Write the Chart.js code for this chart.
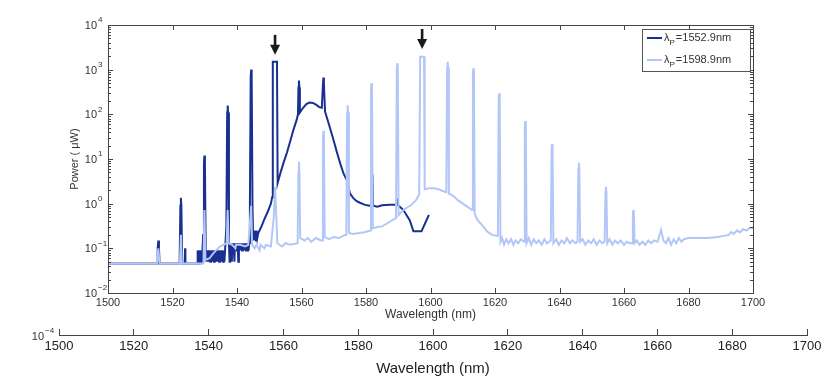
<!DOCTYPE html>
<html lang="en">
<head>
<meta charset="UTF-8">
<title>Spectrum</title>
<script src="https://cdn.jsdelivr.net/npm/chart.js"></script>
<style>
html, body { margin: 0; padding: 0; background: #fff; }
body { width: 830px; height: 378px; overflow: hidden; }
canvas { display: block; }
</style>
</head>
<body>
<canvas id="spectrum" width="830" height="322"></canvas>
<canvas id="axis2" width="830" height="56"></canvas>
<script>
// wavelength (nm), power (uW)
var darkSeries = [
  [1500, 0.046], [1515.2, 0.046], [1515.4, 0.1], [1515.6, 0.15], [1515.8, 0.1], [1516.0, 0.046],
  [1522.2, 0.046], [1522.45, 0.9], [1522.6, 1.35], [1522.75, 0.9], [1523.0, 0.046],
  [1523.8, 0.046], [1523.9, 0.1], [1524.0, 0.046], [1527.6, 0.046],
  [1527.7, 0.09], [1527.9, 0.046], [1528.1, 0.09], [1528.3, 0.046], [1528.5, 0.09], [1528.7, 0.046],
  [1528.9, 0.09], [1529.1, 0.046], [1529.3, 0.09], [1529.5, 0.2], [1529.75, 8], [1529.9, 12], [1530.05, 8], [1530.3, 0.09],
  [1530.5, 0.05], [1530.7, 0.09], [1530.9, 0.05], [1531.1, 0.09], [1531.3, 0.05], [1531.5, 0.09], [1531.7, 0.05],
  [1531.9, 0.09], [1532.1, 0.05], [1532.3, 0.09], [1532.5, 0.05], [1532.7, 0.09], [1532.9, 0.05], [1533.1, 0.09],
  [1533.3, 0.05], [1533.5, 0.09], [1533.7, 0.05], [1533.9, 0.09], [1534.1, 0.05], [1534.3, 0.09], [1534.5, 0.05],
  [1534.7, 0.09], [1534.9, 0.05], [1535.1, 0.09], [1535.3, 0.05], [1535.5, 0.09], [1535.7, 0.05], [1535.9, 0.09],
  [1536.1, 0.05], [1536.3, 0.09], [1536.7, 0.3], [1536.95, 110], [1537.1, 158], [1537.25, 110], [1537.5, 0.13],
  [1537.7, 0.05], [1537.8, 0.13], [1538.0, 0.09], [1538.2, 0.13], [1538.4, 0.05], [1538.6, 0.13], [1538.8, 0.09],
  [1539.0, 0.13], [1539.2, 0.05], [1539.4, 0.13], [1539.6, 0.09], [1539.8, 0.13], [1540.0, 0.09], [1540.2, 0.13],
  [1540.4, 0.05], [1540.6, 0.13], [1540.8, 0.09], [1541.0, 0.13], [1541.2, 0.09], [1541.4, 0.13], [1541.6, 0.09],
  [1541.8, 0.13], [1542.0, 0.09], [1542.2, 0.13], [1542.4, 0.09], [1542.6, 0.13], [1542.8, 0.09], [1543.0, 0.13],
  [1543.2, 0.09], [1543.4, 0.13], [1543.6, 0.09], [1543.8, 0.13],
  [1544.0, 1], [1544.25, 700], [1544.4, 1000], [1544.55, 700], [1544.8, 1], [1545.0, 0.15],
  [1545.3, 0.25], [1545.5, 0.15], [1545.7, 0.22], [1545.9, 0.15], [1546.1, 0.25], [1546.3, 0.17], [1546.6, 0.22],
  [1547.5, 0.3], [1548.5, 0.45], [1549.5, 0.65], [1550.5, 1.0], [1550.9, 1.4],
  [1551.1, 1500], [1552.4, 1500], [1552.6, 2.9],
  [1553.5, 5], [1554.5, 8.5], [1555.5, 14], [1556.5, 25], [1557.5, 45], [1558.5, 75], [1558.9, 100],
  [1559.05, 400], [1559.2, 570], [1559.35, 400], [1559.5, 110],
  [1560.5, 140], [1561.5, 170], [1562.5, 183], [1563.5, 180], [1564.5, 165], [1565.5, 145], [1566.3, 140],
  [1566.65, 470], [1566.8, 665], [1566.95, 470], [1567.3, 115],
  [1568.5, 60], [1569.9, 27], [1571, 14], [1572, 8], [1573, 4.8], [1573.9, 3.5], [1574.1, 23], [1574.3, 3],
  [1575, 1.7], [1576, 1.35], [1577, 1.15], [1578.1, 1.05], [1579.5, 0.95], [1581, 0.9], [1581.8, 0.92],
  [1582, 4.5], [1582.2, 0.9], [1583.5, 0.85], [1585, 0.92], [1587.4, 0.95], [1589.5, 0.95], [1589.6, 1.3],
  [1589.7, 0.95], [1590.5, 0.85], [1591.6, 0.72], [1592.6, 0.55], [1593.6, 0.42], [1594.7, 0.24],
  [1597.2, 0.24], [1598.3, 0.36], [1599.5, 0.56]
];

var lightSeries = [
  [1500, 0.046], [1515.2, 0.046], [1515.6, 0.1], [1516.0, 0.046], [1522.3, 0.046], [1522.6, 0.2], [1522.9, 0.046],
  [1529.6, 0.046], [1529.9, 0.72], [1530.2, 0.055], [1531.5, 0.06], [1532.5, 0.075], [1533.5, 0.09],
  [1534.7, 0.11], [1535.8, 0.12], [1536.8, 0.13], [1537.1, 0.72], [1537.4, 0.13], [1538.5, 0.12],
  [1539.5, 0.1], [1539.7, 0.12], [1541, 0.12], [1542.5, 0.11], [1543.5, 0.12], [1544.4, 0.9], [1544.7, 0.12],
  [1545.5, 0.1], [1546, 0.12], [1547, 0.09], [1547.3, 0.12], [1548.5, 0.1], [1549, 0.12], [1550.5, 0.11],
  [1551.4, 0.5], [1551.8, 2.4], [1552.2, 0.5], [1552.5, 0.13], [1554, 0.11], [1555, 0.13], [1556.5, 0.12],
  [1558.8, 0.13], [1559.05, 5], [1559.2, 8.7], [1559.35, 5], [1559.6, 0.17],
  [1561, 0.15], [1562, 0.17], [1563, 0.14], [1564.5, 0.17], [1566, 0.15],
  [1566.4, 0.15], [1566.65, 28], [1566.8, 43], [1566.95, 28], [1567.2, 0.18],
  [1568.5, 0.16], [1570, 0.18], [1571.5, 0.17], [1573.5, 0.2],
  [1573.9, 0.2], [1574.15, 110], [1574.3, 160], [1574.45, 110], [1574.7, 0.22],
  [1576, 0.21], [1578, 0.22], [1579.5, 0.23],
  [1581.3, 0.25], [1581.55, 350], [1581.7, 500], [1581.85, 350], [1582.1, 0.28],
  [1583.5, 0.3], [1585, 0.31], [1586.5, 0.36], [1588, 0.42],
  [1589.3, 0.48], [1589.55, 1000], [1589.7, 1380], [1589.85, 1000], [1590.1, 0.55],
  [1591, 0.66], [1592.5, 0.8], [1594, 0.93], [1595.5, 1.2], [1596.5, 1.6],
  [1596.8, 1950], [1598.0, 1950], [1598.2, 2.1], [1599.5, 2.2], [1601, 2.2], [1602.5, 2.1], [1604, 1.9],
  [1604.9, 1.8], [1605.15, 1100], [1605.3, 1500], [1605.45, 1100], [1605.7, 1.7],
  [1607, 1.5], [1608.5, 1.2], [1610, 1.0], [1611.5, 0.85],
  [1612.9, 0.72], [1613.15, 800], [1613.3, 1070], [1613.45, 800], [1613.7, 0.6],
  [1614.5, 0.44], [1616, 0.33], [1617.5, 0.24], [1619, 0.2],
  [1620.9, 0.19], [1621.15, 220], [1621.3, 295], [1621.45, 220], [1621.7, 0.14],
  [1622.2, 0.17], [1622.8, 0.12], [1623.5, 0.16], [1624.2, 0.13], [1625, 0.16], [1625.7, 0.12], [1626.4, 0.15],
  [1627.2, 0.13], [1628, 0.16], [1629.0, 0.14], [1629.25, 52], [1629.4, 71], [1629.55, 52], [1629.8, 0.13],
  [1630.5, 0.17], [1631.2, 0.12], [1632, 0.16], [1632.8, 0.13], [1633.6, 0.15], [1634.5, 0.12], [1635.3, 0.16],
  [1636.1, 0.13], [1637.3, 0.15], [1637.55, 16], [1637.7, 21.5], [1637.85, 16], [1638.1, 0.13],
  [1639, 0.16], [1639.8, 0.12], [1640.6, 0.15], [1641.5, 0.13], [1642.3, 0.17], [1643.2, 0.13], [1644, 0.15],
  [1645, 0.13], [1645.6, 0.14], [1645.85, 6], [1646, 8.3], [1646.15, 6], [1646.4, 0.14],
  [1647.2, 0.16], [1648, 0.12], [1648.9, 0.15], [1649.8, 0.13], [1650.6, 0.16], [1651.5, 0.12], [1652.4, 0.15],
  [1653.3, 0.13], [1654.0, 0.14], [1654.25, 1.8], [1654.4, 2.4], [1654.55, 1.8], [1654.8, 0.13],
  [1655.5, 0.16], [1656.4, 0.12], [1657.2, 0.15], [1658.1, 0.13], [1659, 0.15], [1660, 0.12], [1660.8, 0.14],
  [1661.8, 0.13], [1662.5, 0.13], [1662.75, 0.55], [1662.9, 0.72], [1663.05, 0.55], [1663.3, 0.13],
  [1664, 0.15], [1664.8, 0.12], [1665.7, 0.14], [1666.6, 0.12], [1667.5, 0.15], [1668.4, 0.13], [1669.3, 0.15],
  [1670.4, 0.14], [1671.5, 0.26], [1672.2, 0.15],
  [1673, 0.13], [1673.8, 0.17], [1674.6, 0.12], [1675.4, 0.16], [1676.2, 0.13], [1677, 0.17], [1677.8, 0.14],
  [1678.6, 0.16], [1680, 0.17], [1683, 0.17], [1686, 0.17], [1689, 0.18], [1691, 0.19],
  [1692.5, 0.2], [1693.2, 0.23], [1694, 0.21], [1695, 0.25], [1696, 0.23], [1697, 0.27], [1698, 0.25],
  [1699, 0.29], [1700, 0.28]
];

var seriesNames = ['1552.9nm', '1598.9nm'];
var xTicks = [1500, 1520, 1540, 1560, 1580, 1600, 1620, 1640, 1660, 1680, 1700];
var yTickExp = [-2, -1, 0, 1, 2, 3, 4];
var arrowWl = [1551.8, 1597.4];
var arrowTip = [2150, 2900];

var darkColor = 'rgb(26, 48, 145)';
var lightColor = 'rgb(178, 199, 247)';
var axisColor = '#444';
var textColor = '#333';
var fontFamily = "'Liberation Sans', Arial, sans-serif";

Chart.defaults.font.family = fontFamily;
Chart.defaults.color = textColor;

function toPoints(arr) {
  return arr.map(function (p) { return { x: p[0], y: p[1] }; });
}

function supText(e) {
  return e < 0 ? '\u2212' + Math.abs(e) : String(e);
}

function plainTick(v) {
  return String(v);
}

// frame with inward ticks, y labels as 10^n, arrows and legend
var framePlugin = {
  id: 'frame',
  afterDatasetsDraw: function (chart) {
    var ctx = chart.ctx, a = chart.chartArea;
    var xs = chart.scales.x, ys = chart.scales.y;
    ctx.save();
    ctx.strokeStyle = axisColor;
    ctx.lineWidth = 1;
    ctx.strokeRect(a.left + 0.5, a.top + 0.5, a.right - a.left, a.bottom - a.top);

    ctx.beginPath();
    xTicks.forEach(function (v) {
      var px = Math.round(xs.getPixelForValue(v)) + 0.5;
      ctx.moveTo(px, a.bottom); ctx.lineTo(px, a.bottom - 5);
      ctx.moveTo(px, a.top); ctx.lineTo(px, a.top + 5);
    });
    for (var e = yTickExp[0]; e < yTickExp[yTickExp.length - 1]; e++) {
      for (var k = 1; k < 10; k++) {
        var py = Math.round(ys.getPixelForValue(k * Math.pow(10, e))) + 0.5;
        var len = k === 1 ? 5 : 3;
        ctx.moveTo(a.left, py); ctx.lineTo(a.left + len, py);
        ctx.moveTo(a.right, py); ctx.lineTo(a.right - len, py);
      }
    }
    ctx.stroke();

    // y tick labels
    ctx.fillStyle = textColor;
    ctx.textBaseline = 'middle';
    yTickExp.forEach(function (e) {
      var py = ys.getPixelForValue(Math.pow(10, e));
      ctx.font = '11px ' + fontFamily;
      ctx.textAlign = 'right';
      ctx.fillText('10', a.left - 11, py + 1);
      ctx.font = '8px ' + fontFamily;
      ctx.textAlign = 'left';
      ctx.fillText(supText(e), a.left - 10, py - 5);
    });

    // pump arrows
    ctx.fillStyle = '#1a1a1a';
    arrowWl.forEach(function (w, i) {
      var px = xs.getPixelForValue(w);
      var tip = ys.getPixelForValue(arrowTip[i]);
      ctx.fillRect(px - 1.3, tip - 20, 2.6, 11);
      ctx.beginPath();
      ctx.moveTo(px - 5, tip - 10);
      ctx.lineTo(px + 5, tip - 10);
      ctx.lineTo(px, tip);
      ctx.closePath();
      ctx.fill();
    });

    // legend
    var bx = 642, by = 29, bw = 108, bh = 42;
    ctx.fillStyle = '#fff';
    ctx.fillRect(bx, by, bw, bh);
    ctx.strokeStyle = '#555';
    ctx.strokeRect(bx + 0.5, by + 0.5, bw, bh);
    [darkColor, lightColor].forEach(function (c, i) {
      var ly = by + 9 + i * 22;
      ctx.strokeStyle = c;
      ctx.lineWidth = 2;
      ctx.beginPath();
      ctx.moveTo(bx + 5, ly); ctx.lineTo(bx + 20, ly);
      ctx.stroke();
      ctx.fillStyle = textColor;
      ctx.textAlign = 'left';
      ctx.font = '11px ' + fontFamily;
      var tx = bx + 22;
      ctx.fillText('\u03bb', tx, ly);
      tx += ctx.measureText('\u03bb').width;
      ctx.font = '8px ' + fontFamily;
      ctx.fillText('P', tx, ly + 5);
      tx += ctx.measureText('P').width + 1;
      ctx.font = '11px ' + fontFamily;
      ctx.fillText('=' + seriesNames[i], tx, ly);
    });
    ctx.restore();
  }
};

new Chart(document.getElementById('spectrum').getContext('2d'), {
  type: 'line',
  data: {
    datasets: [
      {
        label: '\u03bbP=' + seriesNames[1],
        data: toPoints(lightSeries),
        borderColor: lightColor,
        borderWidth: 2,
        pointRadius: 0,
        tension: 0,
        fill: false
      },
      {
        label: '\u03bbP=' + seriesNames[0],
        data: toPoints(darkSeries),
        borderColor: darkColor,
        borderWidth: 2,
        pointRadius: 0,
        tension: 0,
        fill: false
      }
    ]
  },
  options: {
    responsive: false,
    animation: false,
    devicePixelRatio: 1,
    layout: { padding: { left: 63, right: 77, top: 25, bottom: 0 } },
    plugins: { legend: { display: false }, tooltip: { enabled: false } },
    scales: {
      x: {
        type: 'linear',
        min: 1500,
        max: 1700,
        grid: { display: false, drawTicks: false },
        border: { display: false },
        ticks: { stepSize: 20, font: { size: 11 }, color: textColor, padding: 3, maxRotation: 0, callback: plainTick },
        title: { display: true, text: 'Wavelength (nm)', font: { size: 12 }, color: textColor, padding: { top: 0, bottom: 0 } },
        afterFit: function (s) { s.height = 29; }
      },
      y: {
        type: 'logarithmic',
        min: 0.01,
        max: 10000,
        grid: { display: false, drawTicks: false },
        border: { display: false },
        ticks: { display: false },
        title: { display: true, text: 'Power ( \u03bcW)', font: { size: 11 }, color: textColor, padding: { top: 5, bottom: 0 } },
        afterFit: function (s) { s.width = 45; }
      }
    }
  },
  plugins: [framePlugin]
});

// second, wider wavelength axis underneath
var expPlugin = {
  id: 'exp',
  afterDraw: function (chart) {
    var ctx = chart.ctx;
    ctx.save();
    ctx.fillStyle = textColor;
    ctx.textBaseline = 'middle';
    ctx.textAlign = 'right';
    ctx.font = '11px ' + fontFamily;
    ctx.fillText('10', 44, 15);
    ctx.textAlign = 'left';
    ctx.font = '8px ' + fontFamily;
    ctx.fillText(supText(-4), 45, 9);
    ctx.restore();
  }
};

new Chart(document.getElementById('axis2').getContext('2d'), {
  type: 'line',
  data: { datasets: [] },
  options: {
    responsive: false,
    animation: false,
    devicePixelRatio: 1,
    layout: { padding: { left: 59, right: 23, top: 7, bottom: 0 } },
    plugins: { legend: { display: false }, tooltip: { enabled: false } },
    scales: {
      x: {
        type: 'linear',
        min: 1500,
        max: 1700,
        grid: { display: true, drawOnChartArea: true, drawTicks: false, color: axisColor, lineWidth: 1 },
        border: { display: true, color: axisColor, width: 1 },
        ticks: { stepSize: 20, font: { size: 13 }, color: '#222', padding: 4, maxRotation: 0, callback: plainTick },
        title: { display: true, text: 'Wavelength (nm)', font: { size: 15 }, color: '#222', padding: { top: 7, bottom: 0 } },
        afterFit: function (s) { s.height = 43; }
      },
      y: { type: 'linear', min: 0, max: 1, display: false }
    }
  },
  plugins: [expPlugin]
});
</script>
</body>
</html>
